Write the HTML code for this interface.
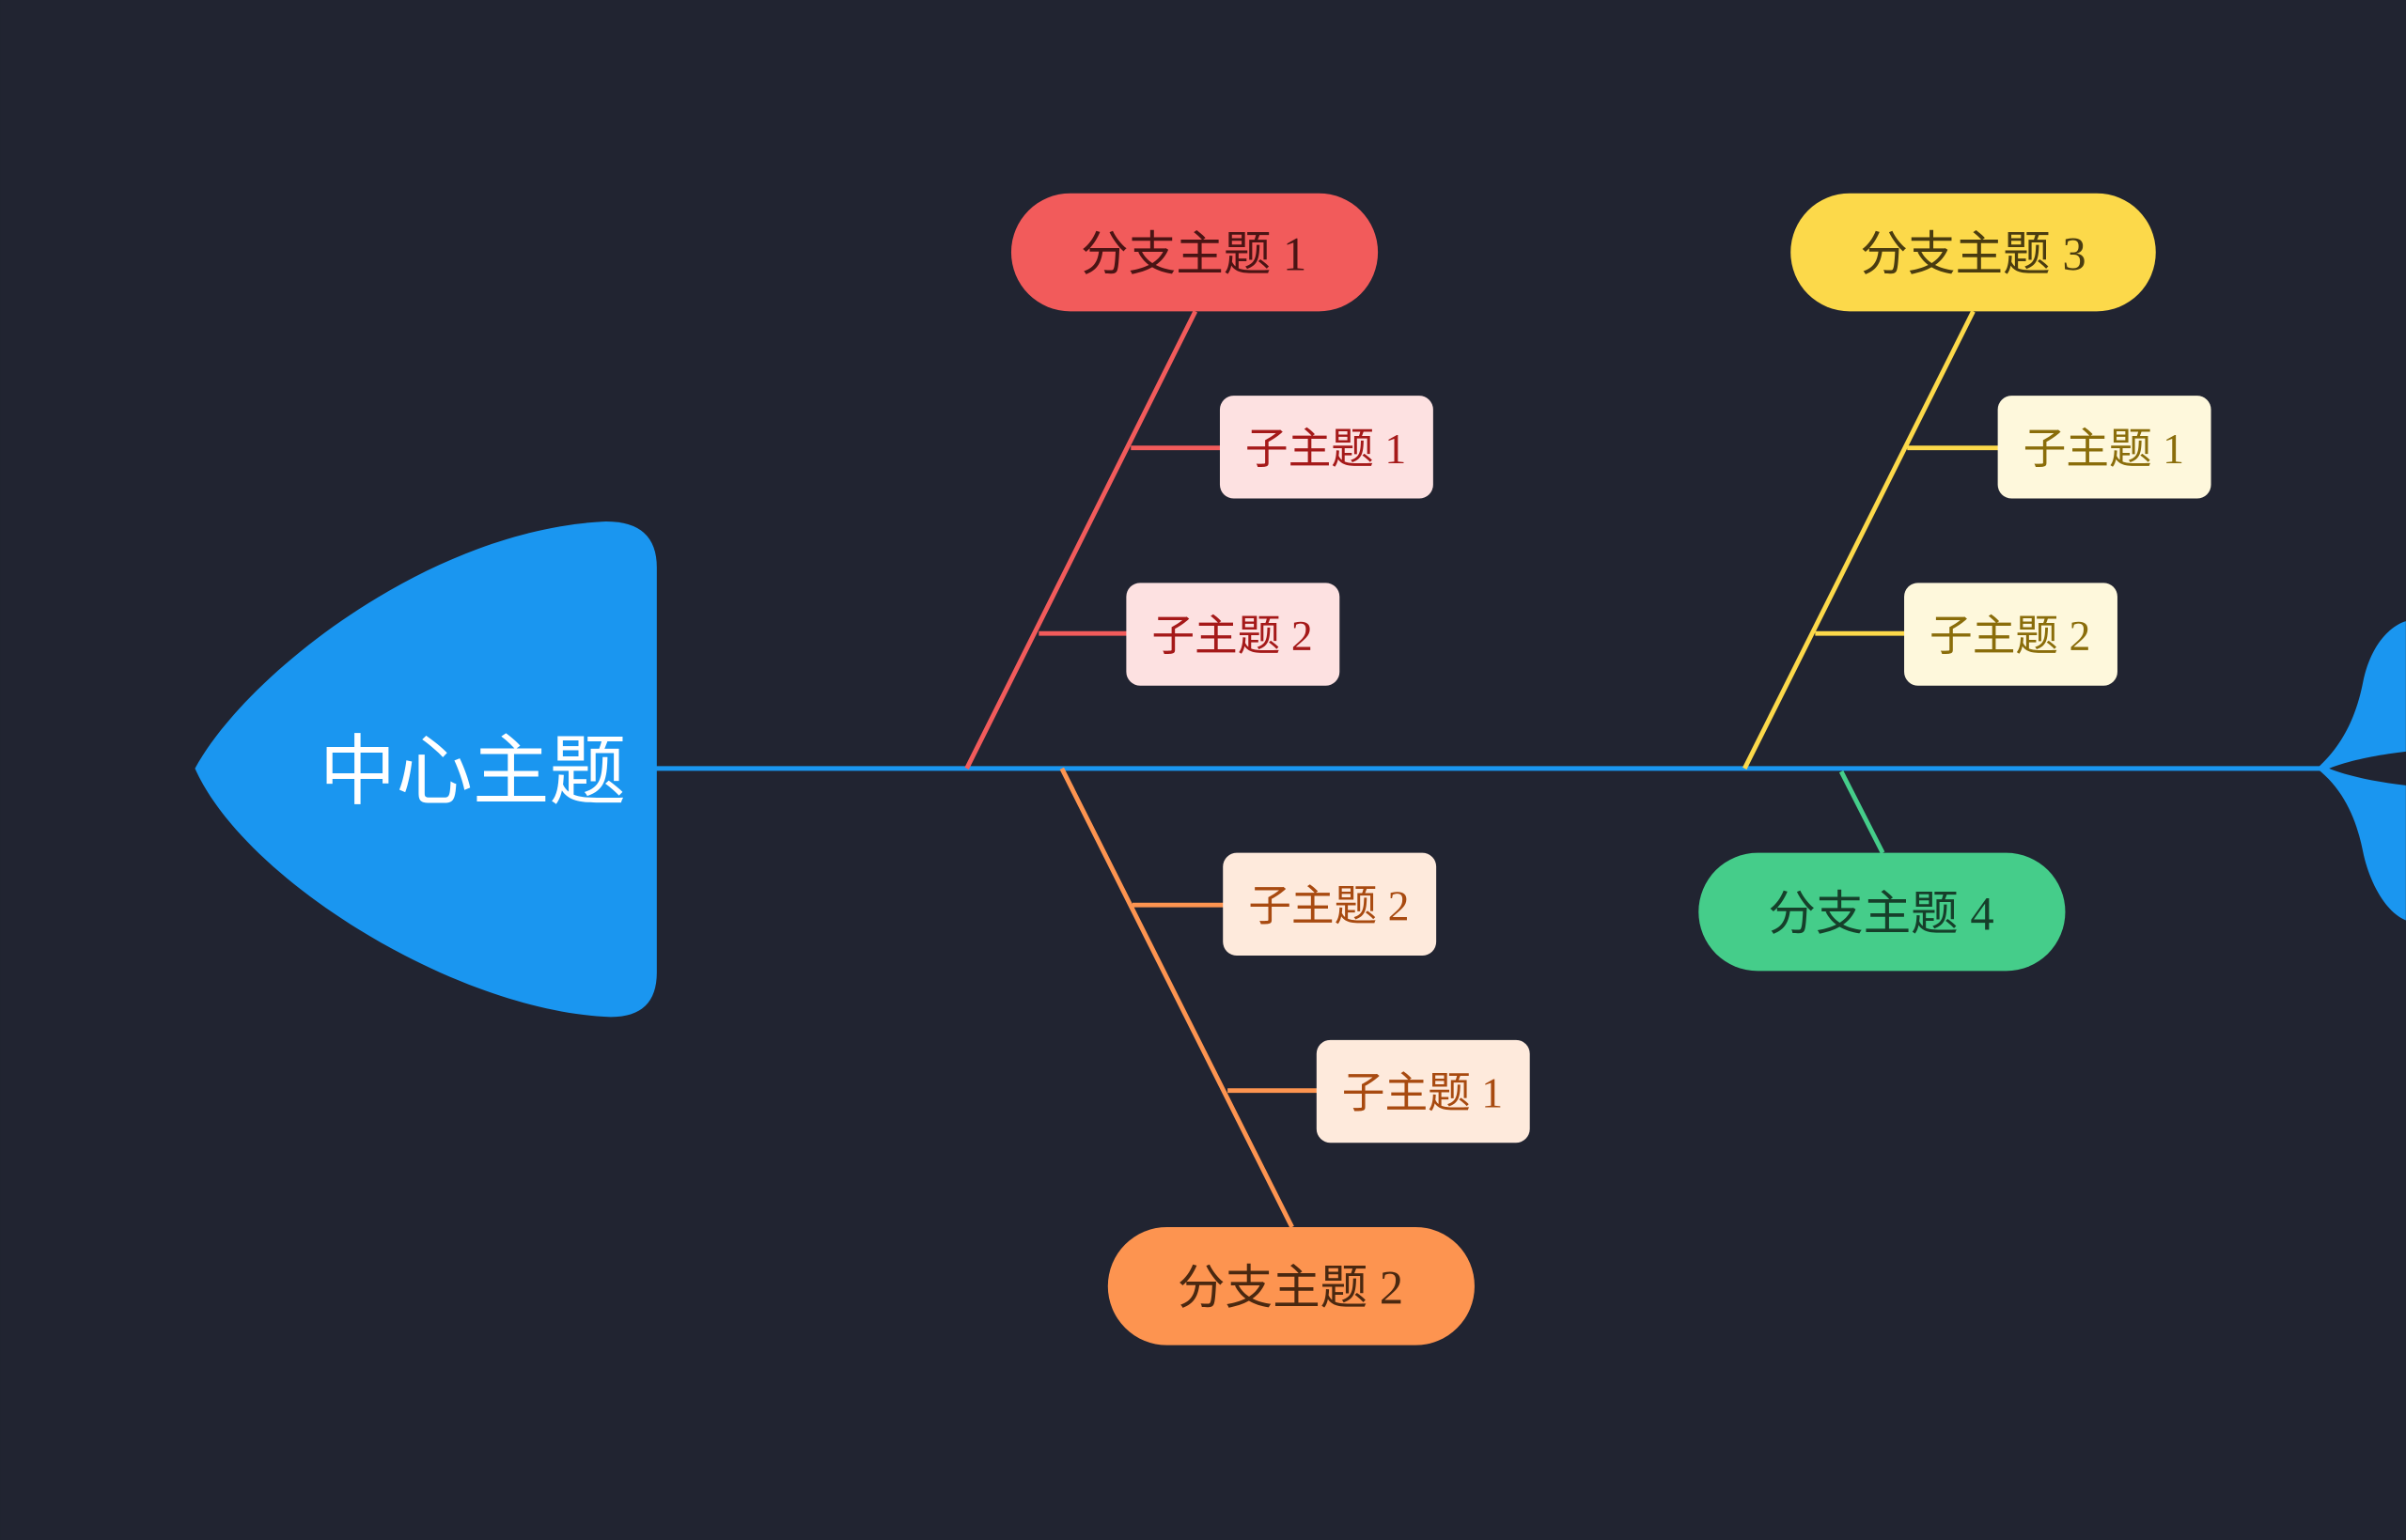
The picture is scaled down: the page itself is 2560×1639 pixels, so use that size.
<!DOCTYPE html>
<html><head><meta charset="utf-8"><style>
html,body{margin:0;padding:0;background:#212431;}
svg{display:block}
.p{font-family:"Liberation Serif","Noto Sans CJK SC",serif;}
</style></head><body>
<svg width="2560" height="1639" viewBox="0 0 1568 1004" xmlns="http://www.w3.org/2000/svg">
<rect width="1568" height="1004" fill="#212431"/>
<!-- spine -->
<line x1="426" y1="501" x2="1515" y2="501" stroke="#1a96f0" stroke-width="3"/>
<!-- head -->
<path d="M127,501 C160,440 280,345 395,340 Q428,340 428,370 L428,634 Q428,663 398,663 C300,660 160,575 127,501 Z" fill="#1a96f0"/>
<text x="308" y="520" font-family="Liberation Sans,'Noto Sans CJK SC',sans-serif" font-size="50" fill="#fff" text-anchor="middle">中心主题</text>
<!-- tail -->
<path d="M1510,501 C1528,485 1536,465 1540,445 C1545,420 1558,408 1568,405 L1568,490 C1550,492 1530,496 1518,501 C1530,506 1550,510 1568,512 L1568,600 C1555,595 1544,575 1540,555 C1536,535 1528,515 1510,501 Z" fill="#1a96f0"/>
<!-- branch 1 -->
<g stroke="#f25b5b" stroke-width="3" fill="none">
<line x1="779" y1="203" x2="630" y2="501"/>
<line x1="737" y1="292" x2="796" y2="292"/>
<line x1="677" y1="413" x2="735" y2="413"/>
</g>
<rect x="659" y="126" width="239" height="77" rx="38.5" fill="#f25b5b"/>
<text class="p" x="778" y="176" font-size="31" fill="#4a1414" text-anchor="middle">分支主题 1</text>
<rect x="795" y="258" width="139" height="67" rx="9" fill="#fde1e1"/>
<text class="p" x="864" y="302" font-size="28" fill="#a51919" text-anchor="middle">子主题 1</text>
<rect x="734" y="380" width="139" height="67" rx="9" fill="#fde1e1"/>
<text class="p" x="803" y="424" font-size="28" fill="#a51919" text-anchor="middle">子主题 2</text>
<!-- branch 3 -->
<g stroke="#fcd94a" stroke-width="3" fill="none">
<line x1="1286" y1="203" x2="1137" y2="501"/>
<line x1="1243" y1="292" x2="1303" y2="292"/>
<line x1="1183" y1="413" x2="1242" y2="413"/>
</g>
<rect x="1167" y="126" width="238" height="77" rx="38.5" fill="#fcd94a"/>
<text class="p" x="1286" y="176" font-size="31" fill="#4a3c10" text-anchor="middle">分支主题 3</text>
<rect x="1302" y="258" width="139" height="67" rx="9" fill="#fef8dc"/>
<text class="p" x="1371" y="302" font-size="28" fill="#8a6d0a" text-anchor="middle">子主题 1</text>
<rect x="1241" y="380" width="139" height="67" rx="9" fill="#fef8dc"/>
<text class="p" x="1310" y="424" font-size="28" fill="#8a6d0a" text-anchor="middle">子主题 2</text>
<!-- branch 2 -->
<g stroke="#fd9450" stroke-width="3" fill="none">
<line x1="692" y1="501" x2="842" y2="800"/>
<line x1="738" y1="590" x2="798" y2="590"/>
<line x1="800" y1="711" x2="859" y2="711"/>
</g>
<rect x="722" y="800" width="239" height="77" rx="38.5" fill="#fd9450"/>
<text class="p" x="841" y="850" font-size="31" fill="#4a2810" text-anchor="middle">分支主题 2</text>
<rect x="797" y="556" width="139" height="67" rx="9" fill="#feeadc"/>
<text class="p" x="866" y="600" font-size="28" fill="#a84a10" text-anchor="middle">子主题 2</text>
<rect x="858" y="678" width="139" height="67" rx="9" fill="#feeadc"/>
<text class="p" x="927" y="722" font-size="28" fill="#a84a10" text-anchor="middle">子主题 1</text>
<!-- branch 4 -->
<line x1="1200" y1="503" x2="1227" y2="556" stroke="#45cd8a" stroke-width="3"/>
<rect x="1107" y="556" width="239" height="77" rx="38.5" fill="#45cd8a"/>
<text class="p" x="1226" y="606" font-size="31" fill="#163f2a" text-anchor="middle">分支主题 4</text>
</svg>
</body></html>
